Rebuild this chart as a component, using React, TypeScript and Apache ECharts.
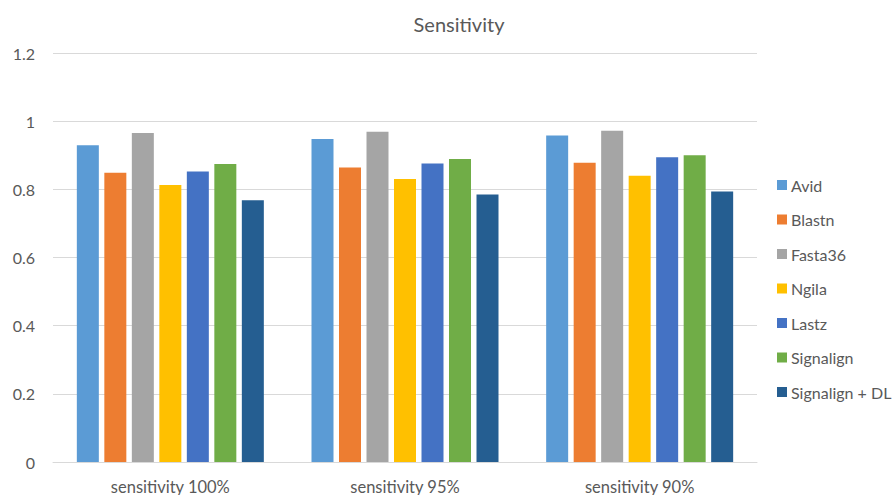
import React, { useEffect, useRef } from "react";
import * as echarts from "echarts";

const categories = ["sensitivity 100%", "sensitivity 95%", "sensitivity 90%"];
const seriesNames = ["Avid", "Blastn", "Fasta36", "Ngila", "Lastz", "Signalign", "Signalign + DL"];
const colors = ["#5B9BD5", "#ED7D31", "#A5A5A5", "#FFC000", "#4472C4", "#70AD47", "#255E91"];

const avid = [0.929, 0.948, 0.958];
const blastn = [0.849, 0.864, 0.878];
const fasta36 = [0.965, 0.969, 0.972];
const ngila = [0.813, 0.83, 0.84];
const lastz = [0.852, 0.876, 0.894];
const signalign = [0.874, 0.889, 0.9];
const signalignDL = [0.768, 0.785, 0.794];

const seriesValues = [avid, blastn, fasta36, ngila, lastz, signalign, signalignDL];

const FONT = "Lato, 'Open Sans', sans-serif";
const TEXT = "#595959";

export default function App() {
  const ref = useRef<HTMLDivElement>(null);

  useEffect(() => {
    if (!ref.current) return;
    const chart = echarts.init(ref.current, undefined, { renderer: "svg" });
    chart.setOption({
      animation: false,
      backgroundColor: "#ffffff",
      color: colors,
      title: {
        text: "Sensitivity",
        left: 454,
        top: 9,
        textAlign: "center",
        textStyle: { fontFamily: FONT, fontSize: 20, fontWeight: "normal", color: TEXT },
      },
      legend: {
        orient: "vertical",
        left: 772,
        top: 172,
        itemWidth: 10,
        itemHeight: 10,
        itemGap: 18.5,
        icon: "rect",
        textStyle: { fontFamily: FONT, fontSize: 16, color: TEXT, padding: [0, 0, 0, -1] },
        data: seriesNames,
      },
      grid: { left: 53, right: 139, top: 53, bottom: 31 },
      xAxis: {
        type: "category",
        data: categories,
        axisLine: { lineStyle: { color: "#d9d9d9" } },
        axisTick: { show: false },
        axisLabel: { fontFamily: FONT, fontSize: 16.5, color: TEXT, margin: 16 },
      },
      yAxis: {
        type: "value",
        min: 0,
        max: 1.2,
        interval: 0.2,
        axisLine: { show: false },
        axisTick: { show: false },
        splitLine: { lineStyle: { color: "#d9d9d9" } },
        axisLabel: { fontFamily: FONT, fontSize: 16, color: TEXT, margin: 18 },
      },
      series: seriesNames.map((name, i) => ({
        name,
        type: "bar",
        data: seriesValues[i],
        barWidth: 22,
        barGap: "25%",
        itemStyle: { color: colors[i] },
      })),
    });
    return () => chart.dispose();
  }, []);

  return <div ref={ref} style={{ width: 896, height: 495, position: "absolute", left: 0, top: 0 }} />;
}
